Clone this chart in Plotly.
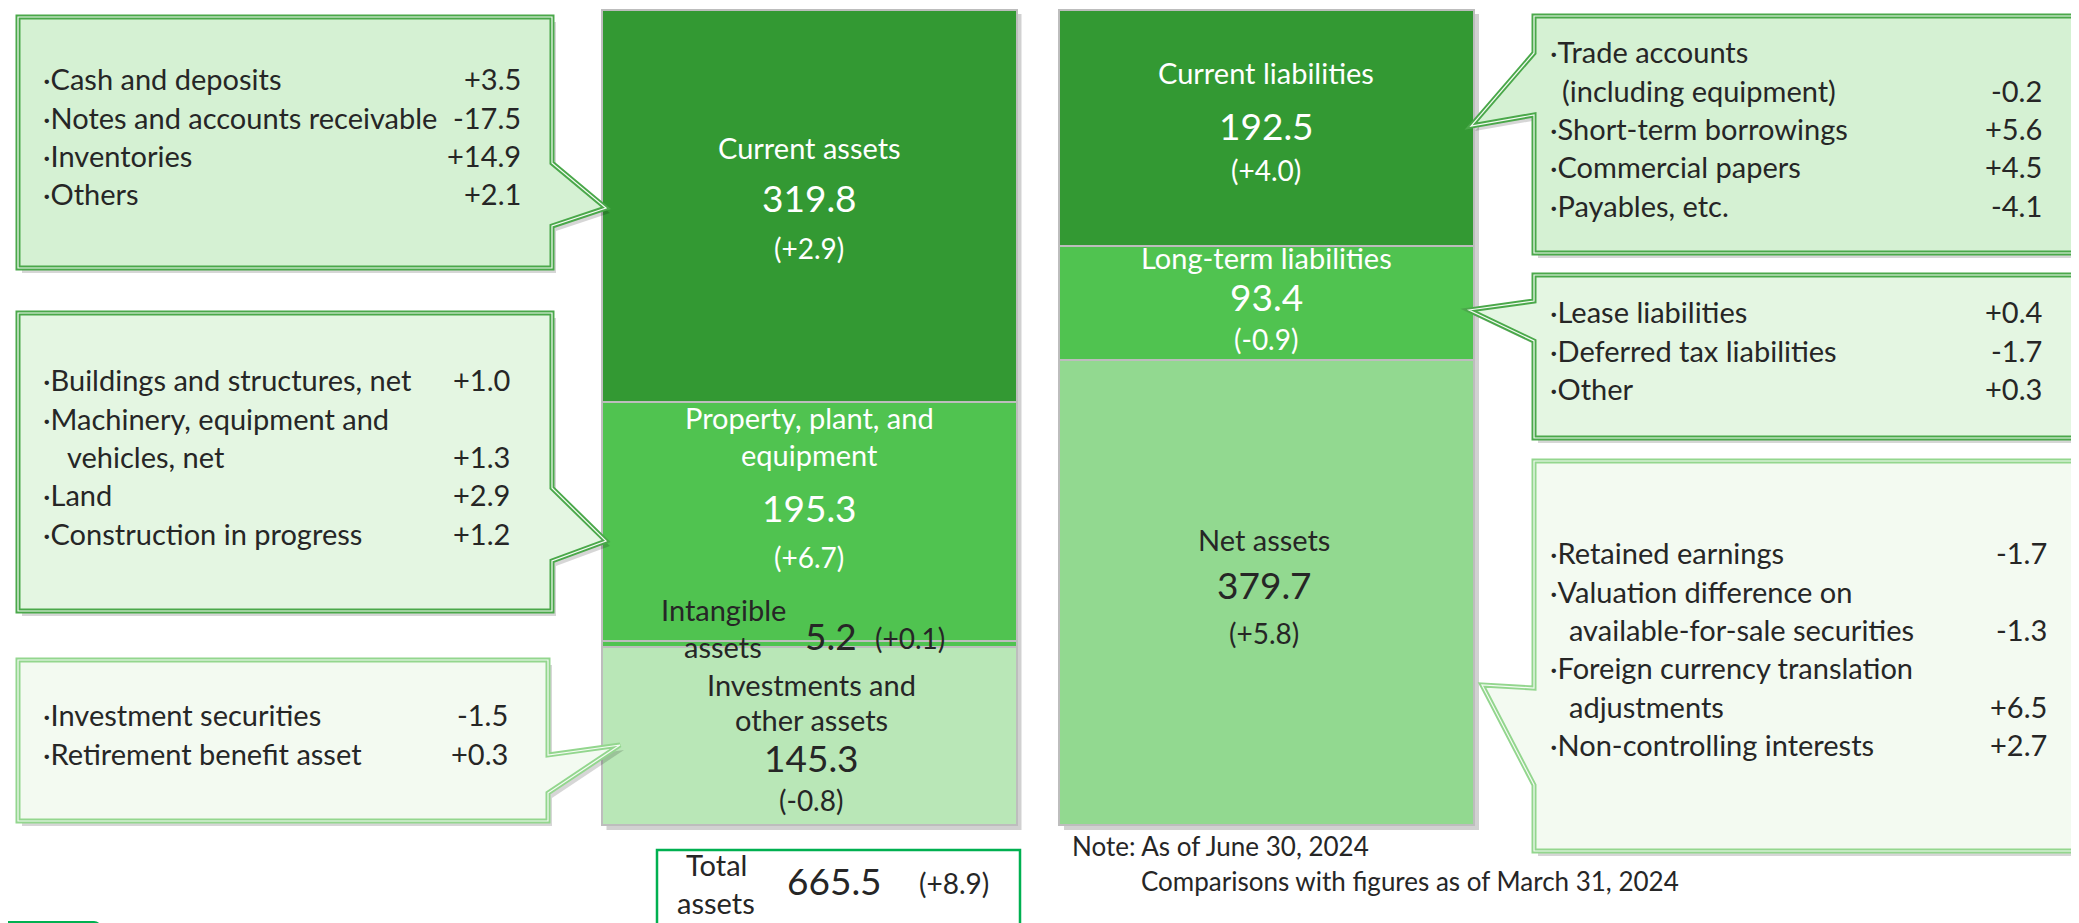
import plotly.graph_objects as go

W, H = 2079, 923
FONT = "Lato"
DARK = "#262626"

# ---------------- data ----------------
left_categories = ["Investments and other assets", "Intangible assets",
                   "Property, plant, and equipment", "Current assets"]
left_values = [145.3, 5.2, 195.3, 319.8]
left_changes = ["-0.8", "+0.1", "+6.7", "+2.9"]

right_categories = ["Net assets", "Long-term liabilities", "Current liabilities"]
right_values = [379.7, 93.4, 192.5]
right_changes = ["+5.8", "-0.9", "+4.0"]

total_assets = 665.5
total_change = "+8.9"

current_assets_items = ["Cash and deposits", "Notes and accounts receivable", "Inventories", "Others"]
current_assets_deltas = ["+3.5", "-17.5", "+14.9", "+2.1"]

ppe_items = ["Buildings and structures, net", "Machinery, equipment and|vehicles, net",
             "Land", "Construction in progress"]
ppe_deltas = ["+1.0", "+1.3", "+2.9", "+1.2"]

invest_items = ["Investment securities", "Retirement benefit asset"]
invest_deltas = ["-1.5", "+0.3"]

cur_liab_items = ["Trade accounts|(including equipment)", "Short-term borrowings",
                  "Commercial papers", "Payables, etc."]
cur_liab_deltas = ["-0.2", "+5.6", "+4.5", "-4.1"]

lt_liab_items = ["Lease liabilities", "Deferred tax liabilities", "Other"]
lt_liab_deltas = ["+0.4", "-1.7", "+0.3"]

net_items = ["Retained earnings", "Valuation difference on|available-for-sale securities",
             "Foreign currency translation|adjustments", "Non-controlling interests"]
net_deltas = ["-1.7", "-1.3", "+6.5", "+2.7"]

note_lines = ["Note: As of June 30, 2024", "Comparisons with figures as of March 31, 2024"]

# ---------------- layout helpers ----------------
left_colors = ["#b9e7b7", "#50c350", "#50c350", "#339933"]
right_colors = ["#92d990", "#50c350", "#339933"]
LEFT_X, RIGHT_X, BAR_W = 801, 1258.5, 415

# y axis: 0 -> pixel 817, 665.5 -> pixel 2
k = (817 - 2) / total_assets
y_top = total_assets + 2 / k
y_bot = -(H - 817) / k


def px(x):
    return x / W


def py(y):
    return 1 - y / H


fig = go.Figure()
for cat, v, c in zip(left_categories, left_values, left_colors):
    fig.add_trace(go.Bar(x=[LEFT_X], y=[v], width=BAR_W, name=cat,
                         marker=dict(color=c, line=dict(color="#bdbdbd", width=2.5)),
                         hoverinfo="name+y", showlegend=False))
for cat, v, c in zip(right_categories, right_values, right_colors):
    fig.add_trace(go.Bar(x=[RIGHT_X], y=[v], width=BAR_W, name=cat,
                         marker=dict(color=c, line=dict(color="#bdbdbd", width=2.5)),
                         hoverinfo="name+y", showlegend=False))

shapes = []
# bar shadows
for cx in (LEFT_X, RIGHT_X):
    shapes.append(dict(type="rect", xref="x", yref="y", layer="below",
                       x0=cx - BAR_W / 2 + 5, x1=cx + BAR_W / 2 + 5,
                       y0=-5 / k, y1=total_assets - 4 / k,
                       fillcolor="rgba(0,0,0,0.18)", line=dict(width=0)))


def callout(points, fill, border):
    d = "M" + " L".join(f"{px(x):.5f},{py(y):.5f}" for x, y in points) + " Z"
    ds = "M" + " L".join(f"{px(x + 4):.5f},{py(y + 5):.5f}" for x, y in points) + " Z"
    shapes.append(dict(type="path", path=ds, xref="paper", yref="paper",
                       fillcolor="rgba(0,0,0,0.16)", line=dict(width=0)))
    shapes.append(dict(type="path", path=d, xref="paper", yref="paper",
                       fillcolor=fill, line=dict(color=border, width=5)))
    shapes.append(dict(type="path", path=d, xref="paper", yref="paper",
                       fillcolor="rgba(0,0,0,0)", line=dict(color="#f4fbf3", width=1.2)))


FILL1, FILL2, FILL3 = "#d5f1d3", "#e4f6e2", "#f3faf1"
B1, B3 = "#4aa84a", "#93d68e"
callout([(10, 9), (544, 9), (544, 155), (598, 200), (544, 218), (544, 260), (10, 260)], FILL1, B1)
callout([(10, 305), (544, 305), (544, 480), (598, 533), (544, 553), (544, 603), (10, 603)], FILL2, B1)
callout([(10, 652), (540, 652), (540, 747), (612, 737), (540, 785), (540, 813), (10, 813)], FILL3, B3)
callout([(1526, 8), (2078, 8), (2078, 245), (1526, 245), (1526, 107), (1463, 118), (1526, 45)], FILL1, B1)
callout([(1526, 267), (2078, 267), (2078, 430), (1526, 430), (1526, 333), (1461, 302), (1526, 293)], FILL2, B1)
callout([(1526, 453), (2078, 453), (2078, 843), (1526, 843), (1526, 777), (1474, 677), (1526, 680)], FILL3, B3)

# total assets box
shapes.append(dict(type="rect", xref="paper", yref="paper",
                   x0=px(649), x1=px(1012), y0=py(921), y1=py(842),
                   fillcolor="white", line=dict(color="#00b050", width=2.5)))
# footer tab
shapes.append(dict(type="path", xref="paper", yref="paper",
                   path=f"M{px(0)},{py(923)} L{px(0)},{py(913)} L{px(86)},{py(913)} "
                        f"Q{px(92)},{py(913)} {px(92)},{py(919)} L{px(92)},{py(923)} Z",
                   fillcolor="#00b050", line=dict(width=0)))

ann = []


def txt(x, y, s, size, color=DARK, anchor="left"):
    y_adj = y - 0.28 * size
    ann.append(dict(x=px(x), y=py(y_adj), xref="paper", yref="paper", text=s,
                    showarrow=False, xanchor=anchor, yanchor="middle", borderpad=0,
                    font=dict(size=size, color=color, family=FONT)))


def items(x_text, x_cont, x_val, y0, step, labels, deltas, size=29):
    y = y0
    for lab, d in zip(labels, deltas):
        parts = lab.split("|")
        for i, p in enumerate(parts):
            if i == 0:
                txt(x_text, y, "\u00b7" + p, size)
            else:
                txt(x_cont, y, p, size)
            if i == len(parts) - 1:
                txt(x_val, y, d, size, anchor="right")
            y += step


STEP = 38.3
items(34, 58, 514, 79, STEP, current_assets_items, current_assets_deltas)
items(34, 58, 503, 380, STEP, ppe_items, ppe_deltas)
items(34, 58, 501, 715, STEP, invest_items, invest_deltas)
items(1541, 1553, 2035, 52, STEP, cur_liab_items, cur_liab_deltas)
items(1541, 1553, 2035, 312, STEP, lt_liab_items, lt_liab_deltas)
items(1541, 1560, 2040, 553, STEP, net_items, net_deltas)

W_ = "white"
LBL, VAL, CHG = 29, 37, 28
# left bar labels
txt(801, 148, left_categories[3], LBL, W_, "center")
txt(801, 200, f"{left_values[3]:.1f}", VAL, W_, "center")
txt(801, 248, f"({left_changes[3]})", CHG, W_, "center")

txt(801, 418, "Property, plant, and", LBL, W_, "center")
txt(801, 455, "equipment", LBL, W_, "center")
txt(801, 510, f"{left_values[2]:.1f}", VAL, W_, "center")
txt(801, 557, f"({left_changes[2]})", CHG, W_, "center")

txt(715, 610, "Intangible", LBL, DARK, "center")
txt(715, 647, "assets", LBL, DARK, "center")
txt(823, 638, f"{left_values[1]:.1f}", VAL, DARK, "center")
txt(902, 638, f"({left_changes[1]})", CHG, DARK, "center")

txt(803, 685, "Investments and", LBL, DARK, "center")
txt(803, 720, "other assets", LBL, DARK, "center")
txt(803, 760, f"{left_values[0]:.1f}", VAL, DARK, "center")
txt(803, 800, f"({left_changes[0]})", CHG, DARK, "center")

# right bar labels
txt(1258, 73, right_categories[2], LBL, W_, "center")
txt(1258, 128, f"{right_values[2]:.1f}", VAL, W_, "center")
txt(1258, 170, f"({right_changes[2]})", CHG, W_, "center")

txt(1258, 258, right_categories[1], LBL, W_, "center")
txt(1258, 299, f"{right_values[1]:.1f}", VAL, W_, "center")
txt(1258, 339, f"({right_changes[1]})", CHG, W_, "center")

txt(1256, 540, right_categories[0], LBL, DARK, "center")
txt(1256, 587, f"{right_values[0]:.1f}", VAL, DARK, "center")
txt(1256, 633, f"({right_changes[0]})", CHG, DARK, "center")

# total box
txt(708, 865, "Total", LBL, DARK, "center")
txt(708, 903, "assets", LBL, DARK, "center")
txt(826, 883, f"{total_assets:.1f}", VAL, DARK, "center")
txt(946, 883, f"({total_change})", CHG, DARK, "center")

# note
txt(1063, 845, note_lines[0], 26, DARK)
txt(1132, 880, note_lines[1], 26, DARK)

fig.update_layout(
    width=W, height=H, barmode="stack", bargap=0,
    margin=dict(l=0, r=0, t=0, b=0),
    paper_bgcolor="white", plot_bgcolor="white",
    xaxis=dict(range=[0, W], visible=False, fixedrange=True),
    yaxis=dict(range=[y_bot, y_top], visible=False, fixedrange=True),
    shapes=shapes, annotations=ann, showlegend=False,
)
fig.write_html("out.html")
